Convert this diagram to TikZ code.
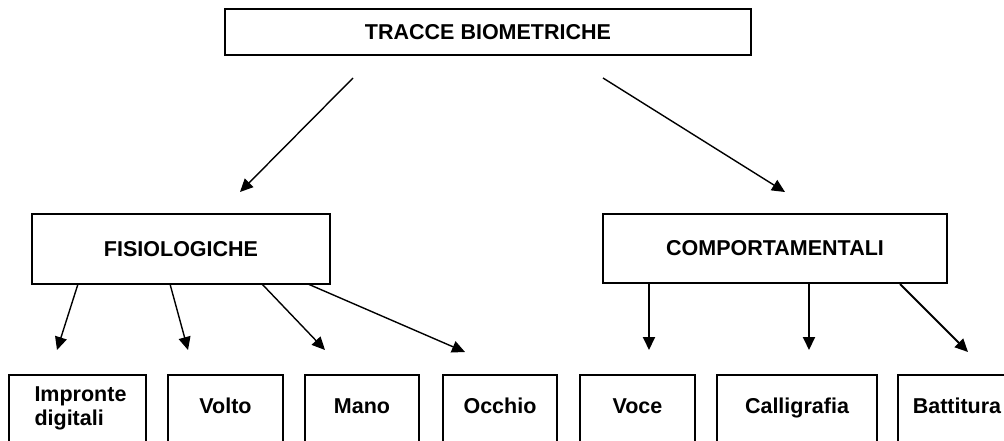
\documentclass[tikz,border=0pt]{standalone}
\usepackage{fontspec}
\setmainfont{Liberation Sans}
\usetikzlibrary{arrows.meta}
\begin{document}
\begin{tikzpicture}[x=1pt,y=-1pt,
  lbl/.style={font=\fontsize{21.5}{24}\selectfont\bfseries},
  bigbox/.style={draw, line width=1.8pt, lbl, inner sep=0pt},
  leafbase/.style={draw, line width=1.6pt, anchor=north, lbl},
  leafbox/.style={leafbase, text height=15pt, text depth=36pt, inner xsep=0pt, inner ysep=24pt},
  arr/.style={line width=1.4pt, -{Triangle[length=13pt,width=12pt]}},
  varr/.style={line width=1.9pt, -{Triangle[length=13pt,width=12pt]}}
]
\useasboundingbox (0,0) rectangle (1004,441);
\fill[white] (0,0) rectangle (1004,441);
\clip (0,0) rectangle (1004,441);

% main boxes
\node[bigbox, minimum width=526pt, minimum height=46pt] (top) at (488,32) {TRACCE BIOMETRICHE};
\node[bigbox, minimum width=298pt, minimum height=70pt] (fis) at (181,249) {FISIOLOGICHE};
\node[bigbox, minimum width=344pt, minimum height=69pt] (comp) at (775,248.5) {COMPORTAMENTALI};

% leaf boxes
\node[leafbase, font=\fontsize{1}{1}\selectfont, minimum width=137pt, minimum height=100pt, inner sep=0pt, label={[lbl, align=left, xshift=3pt, yshift=16pt]center:Impronte\\digitali}] (imp) at (77.5,374) {};
\node[leafbox, minimum width=115pt] (vol) at (225.5,374) {Volto};
\node[leafbox, minimum width=114pt] (man) at (362,374) {Mano};
\node[leafbox, minimum width=114pt] (occ) at (500,374) {Occhio};
\node[leafbox, minimum width=115pt] (voc) at (637.5,374) {Voce};
\node[leafbox, minimum width=160pt] (cal) at (797,374) {Calligrafia};
\node[leafbox, minimum width=118pt] (bat) at (957,374) {Battitura};

% arrow end points
\coordinate (t1s) at (353,78);  \coordinate (t1e) at (240,192);
\coordinate (t2s) at (603,78);  \coordinate (t2e) at (785,192);
\coordinate (f1s) at (78,284);  \coordinate (f1e) at (57,350);
\coordinate (f2s) at (170,284); \coordinate (f2e) at (188,350);
\coordinate (f3s) at (262,284); \coordinate (f3e) at (325,350);
\coordinate (f4s) at (308,284); \coordinate (f4e) at (465,352);
\coordinate (c1s) at (649,284); \coordinate (c1e) at (649,350);
\coordinate (c2s) at (809,284); \coordinate (c2e) at (809,350);
\coordinate (c3s) at (900,284); \coordinate (c3e) at (968,352);

\draw[arr] (t1s) -- (t1e);
\draw[arr] (t2s) -- (t2e);
\draw[arr] (f1s) -- (f1e);
\draw[arr] (f2s) -- (f2e);
\draw[arr] (f3s) -- (f3e);
\draw[arr] (f4s) -- (f4e);
\draw[varr] (c1s) -- (c1e);
\draw[varr] (c2s) -- (c2e);
\draw[varr] (c3s) -- (c3e);
\end{tikzpicture}
\end{document}
